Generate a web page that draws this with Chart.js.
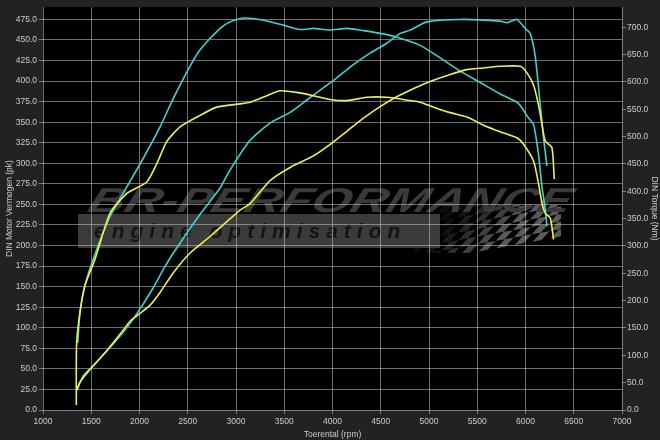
<!DOCTYPE html>
<html>
<head>
<meta charset="utf-8">
<script src="https://cdn.jsdelivr.net/npm/chart.js@4.4.1/dist/chart.umd.min.js"></script>
<style>
  html, body { margin: 0; padding: 0; background: #222; }
  canvas { display: block; }
</style>
</head>
<body>
<canvas id="dynoChart" width="660" height="440"></canvas>
<script>
// tuned (cyan) torque, Nm
var cyanTorqueRpm = [1360, 1384, 1435, 1518, 1695, 2006, 2213, 2351, 2524, 2628, 2835, 2939, 3077, 3284, 3491, 3665, 3802, 3976, 4149, 4321, 4494, 4667, 4909, 5116, 5324, 5531, 5738, 5911, 5946, 6032, 6084, 6135, 6171, 6205, 6222];
var cyanTorqueNm  = [123, 180, 228, 275, 354, 450, 518, 570, 629, 659, 698, 710, 717, 713, 704, 696, 698, 695, 698, 694, 689, 682, 667, 644, 620, 599, 578, 563, 557, 534, 522, 467, 408, 366, 336];

// tuned (cyan) power, pk
var cyanPowerRpm = [1349, 1366, 1418, 1522, 1695, 1868, 2006, 2144, 2247, 2351, 2628, 2835, 2939, 3146, 3353, 3561, 3734, 3872, 4045, 4217, 4390, 4563, 4701, 4805, 4978, 5324, 5738, 5808, 5911, 5997, 6049, 6101, 6153, 6187, 6222];
var cyanPowerPk  = [24, 28, 42, 54, 76, 100, 123, 149, 171, 191, 238, 270, 292, 328, 349, 362, 377, 389, 404, 420, 434, 446, 458, 462, 472, 475, 473, 471, 475, 464, 458, 430, 371, 331, 297];

// stock (yellow) torque, Nm
var yellowTorqueRpm = [1345, 1348, 1384, 1435, 1539, 1695, 1868, 2075, 2178, 2282, 2420, 2628, 2801, 3042, 3146, 3319, 3457, 3630, 3802, 3976, 4149, 4356, 4563, 4805, 4909, 5047, 5220, 5393, 5566, 5738, 5911, 5980, 6084, 6135, 6171, 6205, 6257, 6291];
var yellowTorqueNm  = [9, 120, 180, 228, 276, 360, 396, 417, 450, 491, 518, 539, 554, 560, 563, 575, 584, 581, 575, 568, 566, 572, 572, 566, 563, 554, 544, 536, 521, 509, 498, 486, 455, 414, 378, 360, 351, 312];

// stock (yellow) power, pk
var yellowPowerRpm = [1350, 1384, 1522, 1660, 1798, 1902, 2006, 2110, 2213, 2351, 2524, 2731, 3042, 3146, 3353, 3561, 3802, 3976, 4149, 4321, 4494, 4701, 4978, 5220, 5393, 5566, 5738, 5946, 6015, 6084, 6135, 6171, 6205, 6274, 6298];
var yellowPowerPk  = [24, 34, 54, 72, 92, 108, 117.5, 127.5, 143, 167, 191, 211, 243, 251, 279, 295, 309, 323, 339, 355, 369, 383, 398, 408, 414, 416, 418, 418, 410, 395, 371, 347, 327, 319, 281];

var cyan = '#3fd3d0';
var yellow = '#f2f04a';

function pts(xs, ys) {
    var r = [];
    for (var i = 0; i < xs.length; i++) {
        r.push({x: xs[i], y: ys[i]});
    }
    return r;
}

// dark background, black plot area and the shop watermark under the grid
var backdrop = {
    id: 'backdrop',
    beforeDraw: function (chart) {
        var ctx = chart.ctx, a = chart.chartArea;
        ctx.save();
        ctx.fillStyle = '#222222';
        ctx.fillRect(0, 0, chart.width, chart.height);
        ctx.fillStyle = '#000000';
        ctx.fillRect(a.left, a.top, a.right - a.left, a.bottom - a.top);

        // checker flag
        ctx.save();
        ctx.beginPath();
        ctx.rect(415, 205, 146, 48);
        ctx.clip();
        ctx.translate(430, 230);
        ctx.transform(1, -0.18, -0.9, 1, 0, 0);
        var sq = 9;
        for (var i = -4; i < 22; i++) {
            for (var j = -4; j < 4; j++) {
                if ((i + j) % 2 === 0) {
                    ctx.fillStyle = 'rgba(90,90,90,' + Math.min(1, Math.max(0.15, i / 10)) + ')';
                    ctx.fillRect(i * sq, j * sq, sq, sq);
                }
            }
        }
        ctx.restore();

        // grey band
        ctx.fillStyle = '#3b3b3b';
        ctx.fillRect(78, 214, 362, 34);

        // big italic logo text
        ctx.save();
        ctx.font = 'italic bold 42px "Liberation Sans"';
        var w = ctx.measureText('BR-PERFORMANCE').width;
        ctx.translate(86, 212);
        ctx.transform(1, 0, -0.35, 1, 0, 0);
        ctx.scale(482 / w, 0.82);
        ctx.fillStyle = '#3a3a3a';
        ctx.fillText('BR-PERFORMANCE', 0, 0);
        ctx.restore();

        ctx.font = 'italic bold 21px "Liberation Sans"';
        ctx.fillStyle = '#141414';
        var s = 'engine optimisation';
        var x = 94;
        for (var k = 0; k < s.length; k++) {
            ctx.fillText(s[k], x, 238);
            x += ctx.measureText(s[k]).width + 6;
        }
        ctx.restore();
    }
};

var tickFont = {family: '"Liberation Sans", Arial, sans-serif', size: 8.5};
var gridColor = 'rgba(200,200,200,0.55)';

var ctx = document.getElementById('dynoChart');
var dynoChart = new Chart(ctx, {
    type: 'line',
    data: {
        datasets: [{
                label: 'Vermogen stock',
                data: pts(yellowPowerRpm, yellowPowerPk),
                borderColor: yellow,
                yAxisID: 'yP'
            }, {
                label: 'Torque stock',
                data: pts(yellowTorqueRpm, yellowTorqueNm),
                borderColor: yellow,
                yAxisID: 'yT'
            }, {
                label: 'Vermogen tuned',
                data: pts(cyanPowerRpm, cyanPowerPk),
                borderColor: cyan,
                yAxisID: 'yP'
            }, {
                label: 'Torque tuned',
                data: pts(cyanTorqueRpm, cyanTorqueNm),
                borderColor: cyan,
                yAxisID: 'yT'
            }]
    },
    options: {
        responsive: false,
        animation: false,
        layout: {padding: 0},
        elements: {
            point: {radius: 0},
            line: {borderWidth: 1.6, tension: 0.2, fill: false}
        },
        plugins: {legend: {display: false}, tooltip: {enabled: false}},
        scales: {
            x: {
                type: 'linear',
                min: 1000,
                max: 7000,
                afterFit: function (s) { s.height = 30; },
                ticks: {
                    stepSize: 500, color: '#cccccc', font: tickFont, padding: 3, maxRotation: 0,
                    callback: function (v) { return String(v); }
                },
                grid: {color: gridColor, tickLength: 4},
                border: {display: false},
                title: {display: true, text: 'Toerental (rpm)', color: '#cccccc', font: tickFont, padding: 0}
            },
            yP: {
                position: 'left',
                min: 0,
                max: 490,
                afterFit: function (s) { s.width = 43; },
                afterBuildTicks: function (s) {
                    s.ticks = s.ticks.filter(function (t) { return t.value % 25 === 0; });
                },
                ticks: {
                    stepSize: 25, color: '#cccccc', font: tickFont, padding: 2,
                    callback: function (v) { return v.toFixed(1); }
                },
                grid: {color: gridColor, tickLength: 4},
                border: {display: false},
                title: {display: true, text: 'DIN Motor Vermogen (pk)', color: '#cccccc', font: tickFont, padding: {top: 5, bottom: 0}}
            },
            yT: {
                position: 'right',
                min: 0,
                max: 737,
                afterFit: function (s) { s.width = 38; },
                afterBuildTicks: function (s) {
                    s.ticks = s.ticks.filter(function (t) { return t.value % 50 === 0; });
                },
                ticks: {
                    stepSize: 50, color: '#cccccc', font: tickFont, padding: 1,
                    callback: function (v) { return v.toFixed(1); }
                },
                grid: {color: gridColor, tickLength: 4, drawOnChartArea: false},
                border: {display: false},
                title: {display: true, text: 'DIN Torque (Nm)', color: '#cccccc', font: tickFont, padding: {top: 1, bottom: 0}}
            }
        }
    },
    plugins: [backdrop]
});
</script>
</body>
</html>
